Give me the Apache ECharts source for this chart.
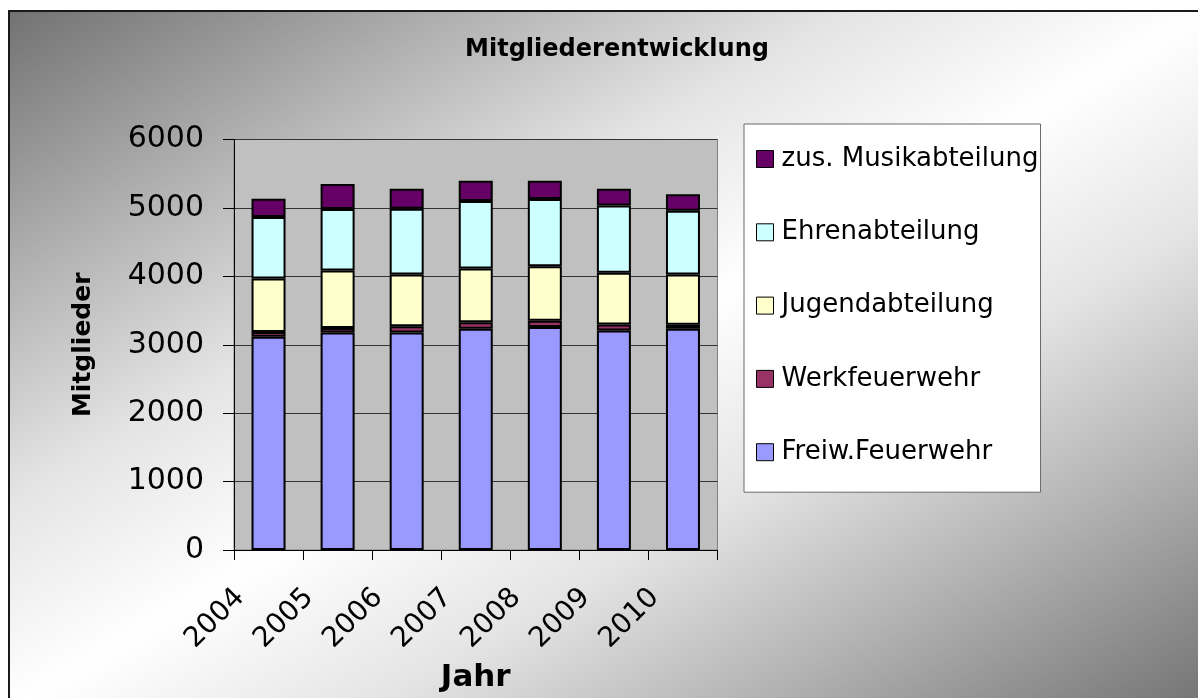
<!DOCTYPE html>
<html>
<head>
<meta charset="utf-8">
<script src="https://cdn.jsdelivr.net/npm/echarts@6/dist/echarts.min.js"></script>
<style>
html,body{margin:0;padding:0;background:#fff;}
#chart{width:1198px;height:698px;}
</style>
</head>
<body>
<div id="chart"></div>
<script>
var years = ['2004', '2005', '2006', '2007', '2008', '2009', '2010'];
var freiwFeuerwehr = [3117, 3180, 3180, 3234, 3258, 3209, 3234];
var werkfeuerwehr = [68, 63, 92, 96, 93, 88, 58];
var jugendabteilung = [783, 842, 754, 784, 797, 754, 734];
var ehrenabteilung = [900, 900, 963, 987, 983, 986, 934];
var musikabteilung = [267, 364, 292, 297, 267, 244, 238];
var yTicks = [0, 1000, 2000, 3000, 4000, 5000, 6000];

var chart = echarts.init(document.getElementById('chart'), null, {renderer: 'canvas'});

function barSeries(name, data, color) {
  return {
    name: name,
    type: 'bar',
    stack: 'total',
    data: data,
    barWidth: 34,
    itemStyle: {color: color, borderColor: '#000', borderWidth: 2},
    emphasis: {disabled: true}
  };
}

var option = {
  animation: false,
  backgroundColor: '#ffffff',
  graphic: [{
    type: 'rect',
    z: -100,
    shape: {x: 9, y: 11, width: 1215, height: 710},
    style: {
      fill: {
        type: 'linear', global: true,
        x: 9, y: 11, x2: 9 + 607, y2: 11 + 1042,
        colorStops: [
          {offset: 0, color: '#727272'},
          {offset: 0.2, color: '#b4b4b4'},
          {offset: 0.35, color: '#e4e4e4'},
          {offset: 0.5, color: '#ffffff'},
          {offset: 0.65, color: '#e4e4e4'},
          {offset: 0.8, color: '#b4b4b4'},
          {offset: 1, color: '#727272'}
        ]
      },
      stroke: '#1a1a1a',
      lineWidth: 2
    },
    silent: true
  }],
  title: {
    text: 'Mitgliederentwicklung',
    left: 612,
    top: 33,
    textAlign: 'center',
    textStyle: {fontFamily: 'DejaVu Sans', fontWeight: 'bold', fontSize: 24, color: '#000'}
  },
  legend: {
    orient: 'vertical',
    left: 744,
    top: 124,
    padding: [20, 2, 25, 12],
    itemGap: 43.3,
    itemWidth: 17,
    itemHeight: 17,
    icon: 'rect',
    backgroundColor: '#ffffff',
    borderColor: '#6a6a6a',
    borderWidth: 1,
    itemStyle: {borderColor: '#000', borderWidth: 1},
    textStyle: {fontFamily: 'DejaVu Sans', fontSize: 26, color: '#000', lineHeight: 30, padding: [0, 0, 0, 3]},
    data: ['zus. Musikabteilung', 'Ehrenabteilung', 'Jugendabteilung', 'Werkfeuerwehr', 'Freiw.Feuerwehr']
  },
  grid: {
    left: 234, top: 139.5, right: 480.5, bottom: 147,
    show: true, backgroundColor: '#c0c0c0', borderColor: '#808080', borderWidth: 1,
    containLabel: false
  },
  xAxis: {
    type: 'category',
    data: years,
    boundaryGap: true,
    name: 'Jahr',
    nameLocation: 'middle',
    nameGap: 112,
    nameTextStyle: {fontFamily: 'DejaVu Sans', fontWeight: 'bold', fontSize: 31, color: '#000'},
    axisLine: {show: true, lineStyle: {color: '#000', width: 1}},
    axisTick: {show: true, length: 10, alignWithLabel: false, lineStyle: {color: '#000'}},
    axisLabel: {
      rotate: 45, margin: 15, interval: 0,
      fontFamily: 'DejaVu Sans', fontSize: 28, color: '#000',
      padding: [0, 40, 0, 0]
    },
    splitLine: {show: false}
  },
  yAxis: {
    type: 'value',
    min: 0, max: 6000, interval: 1000,
    name: 'Mitglieder',
    nameLocation: 'middle',
    nameRotate: 90,
    nameGap: 138,
    nameTextStyle: {fontFamily: 'DejaVu Sans', fontWeight: 'bold', fontSize: 25, color: '#000'},
    axisLine: {show: true, lineStyle: {color: '#000', width: 1}},
    axisTick: {show: true, length: 11, lineStyle: {color: '#000'}},
    axisLabel: {
      margin: 30, fontFamily: 'DejaVu Sans', fontSize: 30, color: '#000',
      formatter: function (v) { return yTicks.indexOf(v) >= 0 ? String(v) : ''; }
    },
    splitLine: {show: true, lineStyle: {color: '#333', width: 1}}
  },
  series: [
    barSeries('Freiw.Feuerwehr', freiwFeuerwehr, '#9999ff'),
    barSeries('Werkfeuerwehr', werkfeuerwehr, '#993366'),
    barSeries('Jugendabteilung', jugendabteilung, '#ffffcc'),
    barSeries('Ehrenabteilung', ehrenabteilung, '#ccffff'),
    barSeries('zus. Musikabteilung', musikabteilung, '#660066')
  ]
};
chart.setOption(option);
</script>
</body>
</html>
